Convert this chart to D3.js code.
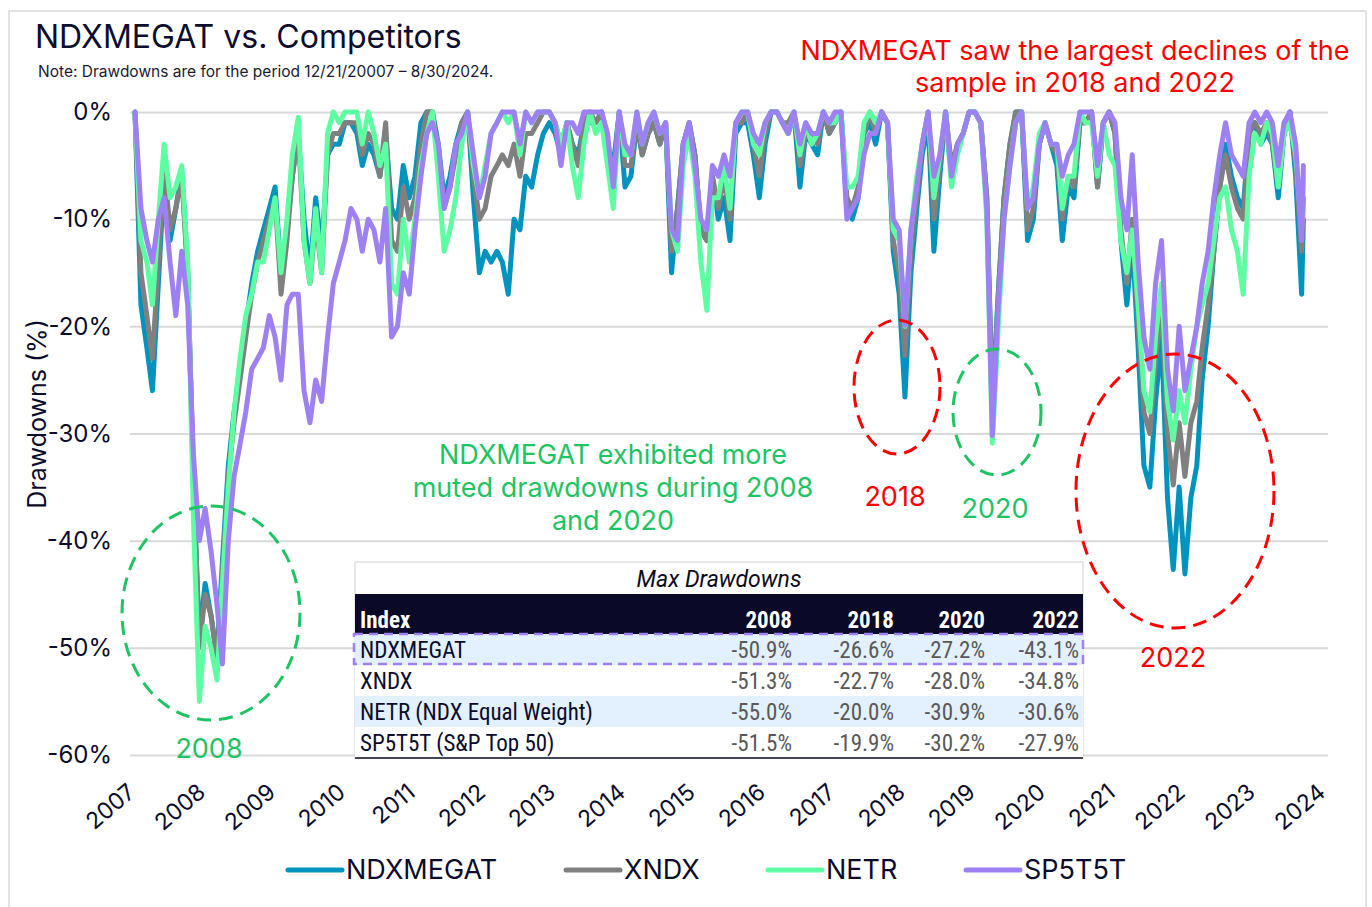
<!DOCTYPE html>
<html>
<head>
<meta charset="utf-8">
<script src="https://cdn.jsdelivr.net/npm/d3@7"></script>
<style>
  body { margin: 0; background: #fff; }
  text { font-family: Inter, Roboto, "Noto Sans", sans-serif; }
  .tbl text { font-family: "Liberation Sans Narrow", "Roboto Condensed", Roboto, sans-serif; }
</style>
</head>
<body>
<script>
// series names and colours
var seriesNames = ["NDXMEGAT", "XNDX", "NETR", "SP5T5T"];
var seriesColors = ["#0093be", "#808080", "#5dffa2", "#9d81f2"];

// monthly drawdowns (%), Dec 2007 .. Aug 2024, last value = 8/30/2024
var ndxmegat = [0,
  -18, -22, -26, -16, -6, -12, -9, -5.5, -15, -35, -49, -44,
  -47, -50.9, -42, -33, -28, -24, -20, -16, -13, -11, -9, -7,
  -15, -11, -6, -2, -10, -15, -8, -13, -4, -3, -3, -1,
  -1, -2, -5, -3, -4, -6, -2, -9, -10, -5, -8, -6,
  -1, 0, 0, -3, -8, -6, -3, -1, 0, -8, -15, -13,
  -14, -13, -14, -17, -10, -11, -6, -7, -4, -2, -1, -2,
  -4, -1, -3, -4, -1, -1, -1, 0, -3, -5, 0, -7,
  -6, -1, -4, -2, -1, -3, -1, -15, -9, -3, -1, -4,
  -11, -12, -6, -10, -8, -12, -2, -1, -1, -4, -8, -3,
  0, 0, -1, -2, 0, -7, -2, -3, -4, 0, -2, -1,
  0, -9, -10, -8, -2, -1, -3, 0, -1, -13, -17, -26.6,
  -15, -9, -4, -1, -13, -6, 0, -6, -3, -2, 0, 0,
  -1, -8, -27.2, -17, -8, -3, 0, 0, -12, -10, -3, -1,
  -3, -5, -12, -7, -8, -1, -1, 0, -7, -1, 0, -2,
  -12, -18, -12, -22, -33, -35, -27, -21, -36, -42.7, -35, -43.1,
  -36, -33, -25, -20, -13, -7, -3, -6, -8, -9, -2, -1,
  -3, -2, -3, -8, -2, 0, -6, -17,
  -10];

var xndx = [0,
  -15, -19, -23, -14, -5, -11, -9, -6, -15, -34, -50, -45,
  -47, -51.3, -43, -34, -29, -25, -21, -17, -14, -12, -10, -8,
  -17, -12, -6, -2, -12, -16, -10, -15, -4, -2, -2, -1,
  -1, -1, -4, -2, -3, -6, -1, -12, -13, -7, -10, -8,
  -3, 0, 0, -4, -9, -7, -4, -1, 0, -6, -10, -9,
  -6, -5, -4, -5, -3, -6, -2, -2, -1, 0, 0, -1,
  -3, -1, -3, -5, -1, 0, -1, 0, -3, -6, 0, -5,
  -5, -1, -4, -2, -1, -3, -1, -13, -9, -3, -1, -4,
  -11, -12, -6, -9, -6, -10, -1, -1, 0, -3, -6, -2,
  0, 0, -1, -1, 0, -5, -2, -2, -3, 0, -2, -1,
  0, -8, -9, -7, -2, 0, -2, 0, -1, -12, -15, -22.7,
  -13, -8, -3, 0, -10, -5, 0, -5, -3, -2, 0, 0,
  -1, -8, -28, -17, -8, -3, 0, 0, -11, -9, -3, -1,
  -3, -4, -10, -6, -7, -1, -1, 0, -7, -1, 0, -2,
  -11, -16, -10, -20, -28, -30, -23, -18, -30, -34.8, -29, -34,
  -29, -27, -22, -18, -13, -7, -4, -7, -9, -10, -2, -1,
  -2, -1, -3, -7, -2, 0, -5, -13,
  -8];

var netr = [0,
  -12, -14, -18, -10, -3, -8, -7, -5, -14, -38, -55, -48,
  -50, -53, -44, -35, -28, -23, -19, -17, -14, -14, -11, -8,
  -15, -10, -4, -0.5, -12, -16, -9, -15, -2, 0, -1, 0,
  0, 0, -3, 0, -2, -5, -3, -16, -17, -10, -14, -10,
  -5, -2, 0, -6, -13, -11, -8, -3, 0, -5, -8, -5,
  -2, -1, 0, -1, 0, -4, 0, -1, 0, 0, 0, -1,
  -3, -1, -5, -8, -3, 0, -2, -1, -5, -9, 0, -4,
  -4, 0, -3, -1, 0, -2, -1, -11, -13, -5, -2, -6,
  -14, -18.5, -8, -8, -5, -9, -1, 0, 0, -3, -4, -1,
  0, 0, -1, -2, 0, -4, -1, -3, -2, 0, -1, -1,
  0, -7, -7, -6, -1, 0, -1, 0, -1, -11, -12, -20,
  -11, -6, -3, 0, -8, -4, 0, -7, -4, -2, 0, 0,
  -1, -10, -30.9, -20, -10, -5, -1, 0, -9, -7, -2, -1,
  -3, -3, -9, -6, -6, 0, -1, -1, -6, -1, -4, -5,
  -12, -15, -11, -18, -26, -28, -21, -16, -27, -30.6, -26, -29,
  -24, -20, -18, -16, -12, -8, -7, -11, -13, -17, -6, -2,
  -3, -1, -2, -7, -2, -1, -4, -11,
  -6];

var sp5t5t = [0,
  -9, -12, -14, -10, -8, -14, -19, -13, -18, -32, -40, -37,
  -41, -46, -51.5, -40, -34, -31, -28, -24, -23, -22, -19, -21,
  -25, -18, -17, -17, -26, -29, -25, -27, -21, -16, -14, -12,
  -9, -10, -13, -10, -11, -14, -9, -21, -20, -15, -17, -11,
  -6, -2, -1, -3, -9, -7, -3, -2, 0, -4, -8, -6,
  -2, -1, 0, 0, 0, -3, 0, -1, 0, 0, 0, -1,
  -5, -1, -1, -2, 0, 0, 0, 0, -2, -7, 0, -3,
  -4, 0, -3, -1, 0, -2, -1, -11, -12, -3, -1, -5,
  -10, -11, -5, -6, -4, -6, -1, 0, 0, -2, -3, -1,
  0, 0, -1, -2, 0, -3, -1, -2, -2, 0, -1, 0,
  0, -10, -9, -8, -4, -2, -2, 0, -1, -10, -11, -19.9,
  -11, -7, -3, 0, -6, -4, 0, -6, -3, -2, 0, 0,
  -1, -9, -30.2, -18, -10, -5, -1, 0, -9, -8, -3, -1,
  -3, -3, -6, -4, -3, 0, 0, 0, -5, -1, 0, -1,
  -8, -11, -4, -14, -21, -24, -16, -12, -24, -27.9, -20, -26,
  -23, -20, -16, -13, -8, -4, -1, -4, -5, -6, -1, 0,
  -1, 0, -1, -5, -1, 0, -3, -12,
  -5];

// x categories: one point per month from 12/21/2007, plus the last day
var startDate = new Date(2007, 11, 21);
var dates = d3.range(201).map(function (i) { return d3.timeMonth.offset(startDate, i); })
  .concat([new Date(2024, 7, 30)]);

var yearLabels = ["2007","2008","2009","2010","2011","2012","2013","2014","2015",
  "2016","2017","2018","2019","2020","2021","2022","2023","2024"];
var yTicks = [0, -10, -20, -30, -40, -50, -60];

// table
var tableYears = ["2008", "2018", "2020", "2022"];
var tableNames = ["NDXMEGAT", "XNDX", "NETR (NDX Equal Weight)", "SP5T5T (S&P Top 50)"];
var tableValues = [
  ["-50.9%", "-26.6%", "-27.2%", "-43.1%"],
  ["-51.3%", "-22.7%", "-28.0%", "-34.8%"],
  ["-55.0%", "-20.0%", "-30.9%", "-30.6%"],
  ["-51.5%", "-19.9%", "-30.2%", "-27.9%"]
];

var allSeries = [ndxmegat, xndx, netr, sp5t5t];

var W = 1372, H = 907;
var svg = d3.select("body").append("svg")
  .attr("width", W)
  .attr("height", H);

// outer frame
svg.append("rect")
  .attr("x", 9).attr("y", 11)
  .attr("width", 1357).attr("height", 900)
  .attr("fill", "#fff")
  .attr("stroke", "#d9d9d9")
  .attr("stroke-width", 1.5);

var x = d3.scaleTime()
  .domain([startDate, d3.timeYear.offset(startDate, 17)])
  .range([135, 1325]);
var y = d3.scaleLinear()
  .domain([-60, 0])
  .range([755, 112]);

// gridlines
svg.append("g")
  .attr("transform", "translate(130,0)")
  .call(d3.axisLeft(y).tickValues(yTicks).tickSize(-1198).tickFormat(""))
  .call(function (g) {
    g.select(".domain").remove();
    g.selectAll("line").attr("stroke", "#d9d9d9").attr("stroke-width", 2);
  });

// y labels
svg.append("g")
  .attr("transform", "translate(112,0)")
  .call(d3.axisLeft(y).tickValues(yTicks).tickSize(0).tickPadding(0)
    .tickFormat(function (d) { return d + "%"; }))
  .call(function (g) {
    g.select(".domain").remove();
    g.selectAll("text")
      .attr("font-size", 24)
      .attr("fill", "#0b0b2b")
      .style("font-family", "Inter, Roboto, sans-serif");
  });

// x labels
var yearTicks = yearLabels.map(function (d, i) { return d3.timeYear.offset(startDate, i); });
svg.append("g")
  .attr("transform", "translate(0,782)")
  .call(d3.axisBottom(x).tickValues(yearTicks).tickSize(0)
    .tickFormat(function (d, i) { return yearLabels[i]; }))
  .call(function (g) {
    g.select(".domain").remove();
    g.selectAll("text")
      .attr("font-size", 23)
      .attr("fill", "#0b0b2b")
      .attr("text-anchor", "end")
      .attr("dy", "0.7em")
      .attr("transform", "translate(-11,-2) rotate(-40)")
      .style("font-family", "Inter, Roboto, sans-serif");
  });

// lines
var line = d3.line()
  .x(function (d, i) { return x(dates[i]); })
  .y(function (d) { return y(d); });

svg.append("g").selectAll("path")
  .data(allSeries)
  .enter()
  .append("path")
  .attr("d", line)
  .attr("fill", "none")
  .attr("stroke", function (d, i) { return seriesColors[i]; })
  .attr("stroke-width", 5)
  .attr("stroke-linejoin", "round")
  .attr("stroke-linecap", "round");

// title and note
svg.append("text")
  .attr("x", 35).attr("y", 48)
  .attr("font-size", 32)
  .attr("fill", "#0d0d2e")
  .text("NDXMEGAT vs. Competitors");
svg.append("text")
  .attr("x", 38).attr("y", 77)
  .attr("font-size", 15.5)
  .attr("fill", "#1a1a33")
  .text("Note: Drawdowns are for the period 12/21/20007 \u2013 8/30/2024.");

// y axis title
svg.append("text")
  .attr("transform", "translate(46,414) rotate(-90)")
  .attr("text-anchor", "middle")
  .attr("font-size", 25)
  .attr("fill", "#0b0b2b")
  .text("Drawdowns (%)");

// annotations
var red = "#ff0000", green = "#1ec463";
var redNote = ["NDXMEGAT saw the largest declines of the", "sample in 2018 and 2022"];
svg.append("g").selectAll("text")
  .data(redNote).enter().append("text")
  .attr("x", 1075).attr("y", function (d, i) { return 60 + i * 32; })
  .attr("text-anchor", "middle")
  .attr("font-size", 27)
  .attr("fill", red)
  .text(function (d) { return d; });

var greenNote = ["NDXMEGAT exhibited more", "muted drawdowns during 2008", "and 2020"];
svg.append("g").selectAll("text")
  .data(greenNote).enter().append("text")
  .attr("x", 613).attr("y", function (d, i) { return 464 + i * 33; })
  .attr("text-anchor", "middle")
  .attr("font-size", 27)
  .attr("fill", green)
  .text(function (d) { return d; });

// dashed ellipses with year labels
var circles = [
  { cx: 211, cy: 613, rx: 89, ry: 107, color: green, label: "2008", ly: 758 },
  { cx: 897, cy: 387, rx: 43, ry: 67, color: red, label: "2018", ly: 506 },
  { cx: 997, cy: 412, rx: 44, ry: 63, color: green, label: "2020", ly: 518 },
  { cx: 1175, cy: 491, rx: 99, ry: 137, color: red, label: "2022", ly: 667 }
];
svg.append("g").selectAll("ellipse")
  .data(circles).enter().append("ellipse")
  .attr("cx", function (d) { return d.cx; })
  .attr("cy", function (d) { return d.cy; })
  .attr("rx", function (d) { return d.rx; })
  .attr("ry", function (d) { return d.ry; })
  .attr("fill", "none")
  .attr("stroke", function (d) { return d.color; })
  .attr("stroke-width", 3)
  .attr("stroke-dasharray", "14,8");
svg.append("g").selectAll("text")
  .data(circles).enter().append("text")
  .attr("x", function (d) { return d.cx - 2; })
  .attr("y", function (d) { return d.ly; })
  .attr("text-anchor", "middle")
  .attr("font-size", 27)
  .attr("fill", function (d) { return d.color; })
  .text(function (d) { return d.label; });

// table
var tb = svg.append("g").attr("class", "tbl");
var tX = 355, tW = 728, tY = 562, rowH = 31;
tb.append("rect")
  .attr("x", tX).attr("y", tY).attr("width", tW).attr("height", 196)
  .attr("fill", "#fff").attr("stroke", "#d0d0d0").attr("stroke-width", 1);
tb.append("text")
  .attr("x", tX + tW / 2).attr("y", tY + 25)
  .attr("text-anchor", "middle")
  .attr("font-size", 23)
  .attr("font-style", "italic")
  .attr("fill", "#0b0b22")
  .style("font-family", "Roboto, Inter, sans-serif")
  .text("Max Drawdowns");
tb.append("rect")
  .attr("x", tX).attr("y", 594).attr("width", tW).attr("height", 40)
  .attr("fill", "#0a0a28");
var colX = [792, 894, 985, 1079];
tb.append("text")
  .attr("x", tX + 5).attr("y", 628)
  .attr("font-size", 23).attr("font-weight", "bold").attr("fill", "#fff")
  .text("Index");
tb.selectAll("text.hd")
  .data(tableYears).enter().append("text")
  .attr("class", "hd")
  .attr("x", function (d, i) { return colX[i]; })
  .attr("y", 628)
  .attr("text-anchor", "end")
  .attr("font-size", 23).attr("font-weight", "bold").attr("fill", "#fff")
  .text(function (d) { return d; });

var rows = tb.selectAll("g.row")
  .data(tableNames).enter().append("g")
  .attr("class", "row")
  .attr("transform", function (d, i) { return "translate(0," + (634 + i * rowH) + ")"; });
rows.append("rect")
  .attr("x", tX).attr("width", tW).attr("height", rowH)
  .attr("fill", function (d, i) { return i % 2 === 0 ? "#e3f0fd" : "#fff"; });
rows.append("text")
  .attr("x", tX + 5).attr("y", 24)
  .attr("font-size", 23).attr("fill", "#0b0b2b")
  .text(function (d) { return d; });
rows.each(function (d, i) {
  d3.select(this).selectAll("text.v")
    .data(tableValues[i]).enter().append("text")
    .attr("class", "v")
    .attr("x", function (v, j) { return colX[j]; })
    .attr("y", 24)
    .attr("text-anchor", "end")
    .attr("font-size", 23).attr("fill", "#595959")
    .text(function (v) { return v; });
});
tb.append("line")
  .attr("x1", tX).attr("x2", tX + tW).attr("y1", 758).attr("y2", 758)
  .attr("stroke", "#0a0a28").attr("stroke-width", 1.5);
tb.append("rect")
  .attr("x", tX - 1).attr("y", 634).attr("width", tW + 1).attr("height", 30)
  .attr("fill", "none")
  .attr("stroke", "#9d81f2").attr("stroke-width", 2.5)
  .attr("stroke-dasharray", "9,6");

// legend
var legX = [288, 566, 768, 966];
var leg = svg.append("g").selectAll("g")
  .data(seriesNames).enter().append("g")
  .attr("transform", function (d, i) { return "translate(" + legX[i] + ",870)"; });
leg.append("line")
  .attr("x1", 0).attr("x2", 54)
  .attr("stroke", function (d, i) { return seriesColors[i]; })
  .attr("stroke-width", 5)
  .attr("stroke-linecap", "round");
leg.append("text")
  .attr("x", 58).attr("y", 9)
  .attr("font-size", 27)
  .attr("fill", "#0b0b2b")
  .text(function (d) { return d; });
</script>
</body>
</html>
